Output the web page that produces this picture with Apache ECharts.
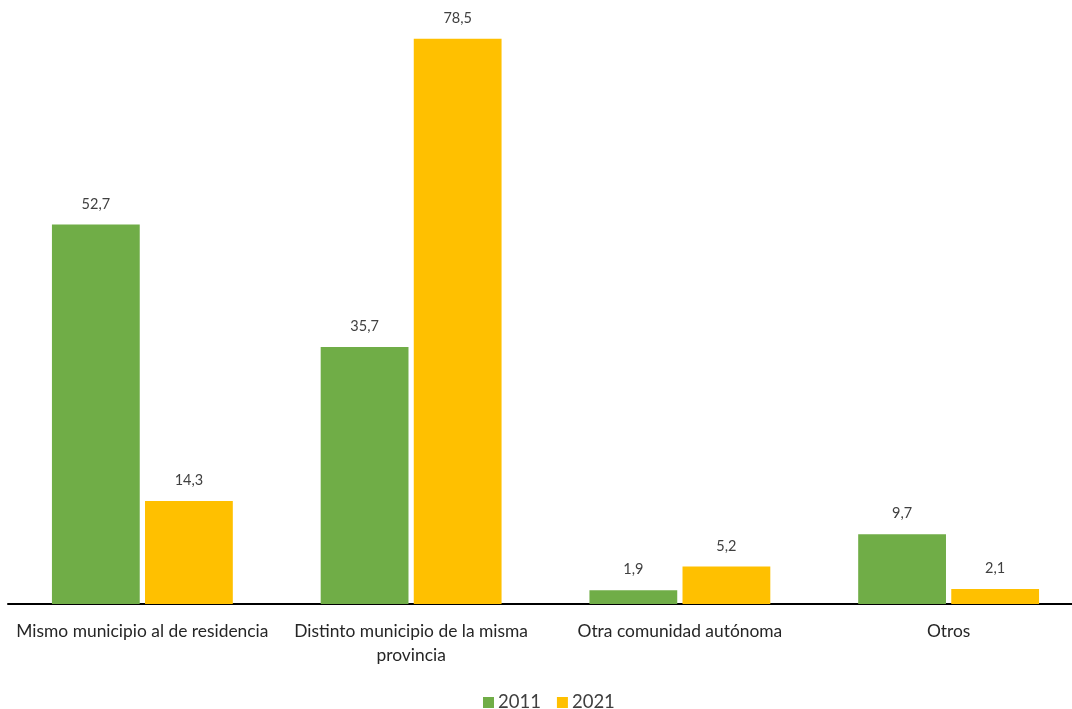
<!DOCTYPE html>
<html><head><meta charset="utf-8">
<script src="https://cdn.jsdelivr.net/npm/echarts@6/dist/echarts.min.js"></script>
<style>html,body{margin:0;padding:0;background:#fff}#c{width:1072px;height:709px}</style>
</head><body><div id="c"></div>
<script>
const categories = ["Mismo municipio al de residencia", "Distinto municipio de la misma\nprovincia", "Otra comunidad autónoma", "Otros"];
const seriesNames = ["2011", "2021"];
const values2011 = [52.7, 35.7, 1.9, 9.7];
const values2021 = [14.3, 78.5, 5.2, 2.1];
const colors = ["#70AD47", "#FFC000"];
const FONT = "Lato";
const chart = echarts.init(document.getElementById('c'));
const lbl = {show:true, position:'top', distance:13, color:'#404040', fontSize:14.5, fontFamily:FONT,
  formatter: p => p.value.toFixed(1).replace('.', ',')};
chart.setOption({
  animation:false,
  textStyle:{fontFamily:FONT},
  grid:{left:8, width:1075, top:28, bottom:105, containLabel:false, outerBoundsMode:'none'},
  legend:{top:693, left:483, padding:0, itemWidth:11, itemHeight:11, itemGap:16,
    textStyle:{fontSize:18.5, color:'#404040', fontFamily:FONT, padding:[0,0,0,-1]}, icon:'rect',
    data:seriesNames},
  xAxis:{type:'category', data:categories,
    axisLine:{lineStyle:{color:'#000', width:2}}, axisTick:{show:false},
    axisLabel:{color:'#262626', fontSize:17.4, fontFamily:FONT, margin:15, lineHeight:24, interval:0}},
  yAxis:{type:'value', min:0, max:80, show:false, splitLine:{show:false}},
  series:[
    {name:seriesNames[0], type:'bar', data:values2011, itemStyle:{color:colors[0]}, barGap:'6%', barCategoryGap:'32.7%', label:lbl},
    {name:seriesNames[1], type:'bar', data:values2021, itemStyle:{color:colors[1]}, label:lbl}
  ]
});
</script></body></html>
